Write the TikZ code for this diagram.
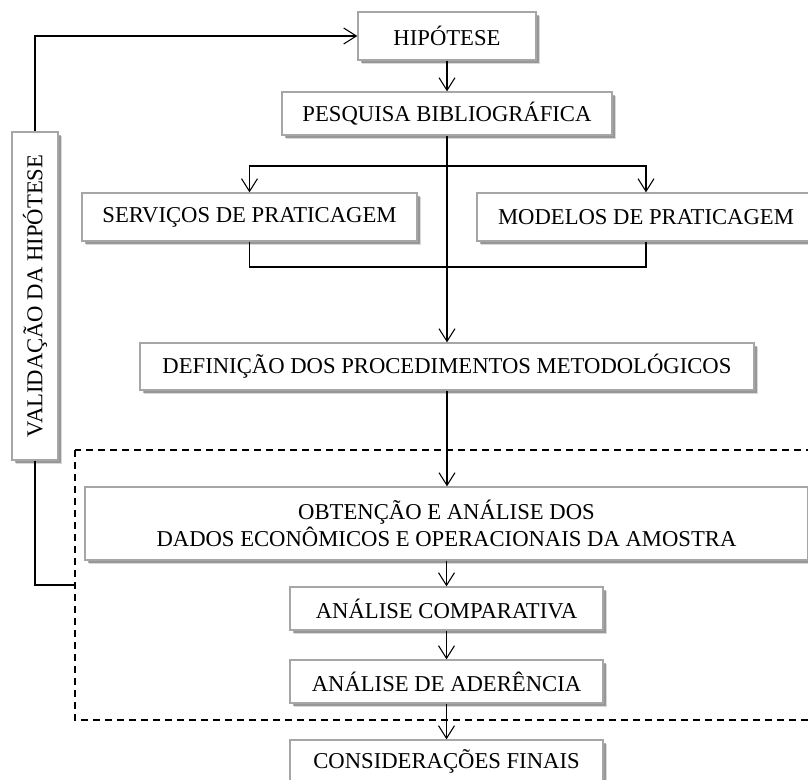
\documentclass[tikz,border=0pt]{standalone}
\usepackage{fontspec}
\setmainfont{Liberation Serif}
\usetikzlibrary{arrows.meta,shadows}
\begin{document}
\begin{tikzpicture}[x=0.75pt,y=-0.75pt,
  box/.style={draw=gray!70,line width=1pt,fill=white,inner sep=0pt,align=center,
    font=\fontsize{17}{20.5}\selectfont,
    drop shadow={shadow xshift=3.2pt,shadow yshift=-3.2pt,fill=black,opacity=0.15},
    drop shadow={shadow xshift=2pt,shadow yshift=-2pt,fill=black,opacity=0.3}},
  conn/.style={line width=0.9pt,draw=black},
  arr/.style={conn,-{Straight Barb[length=9.5pt,width=12pt,line width=0.8pt]}},
  dashbox/.style={dashed,dash pattern=on 5.5pt off 3.5pt,line width=0.8pt}]
\useasboundingbox (0,0) rectangle (808,780);

% dashed frame
\draw[dashbox] (75,450) rectangle (840,720);

% nodes
\node[box,minimum width=133.5pt,minimum height=36pt] (hip) at (447,36) {HIPÓTESE};
\node[box,minimum width=247.5pt,minimum height=32.25pt] (pes) at (447,113.5) {PESQUISA BIBLIOGRÁFICA};
\node[box,minimum width=251.25pt,minimum height=36pt] (ser) at (249.5,217) {SERVIÇOS DE PRATICAGEM};
\node[box,minimum width=253.5pt,minimum height=36pt] (mod) at (646,217) {MODELOS DE PRATICAGEM};
\node[box,minimum width=460.5pt,minimum height=35.25pt] (def) at (447,366.5) {DEFINIÇÃO DOS PROCEDIMENTOS METODOLÓGICOS};
\node[box,minimum width=542.25pt,minimum height=54.75pt] (obt) at (446.5,523.5) {OBTENÇÃO E ANÁLISE DOS\\DADOS ECONÔMICOS E OPERACIONAIS DA AMOSTRA};
\node[box,minimum width=234.75pt,minimum height=32.25pt] (cmp) at (446.5,608.5) {ANÁLISE COMPARATIVA};
\node[box,minimum width=234.75pt,minimum height=32.25pt] (ade) at (446.5,681.5) {ANÁLISE DE ADERÊNCIA};
\node[box,minimum width=234.75pt,minimum height=32.25pt] (con) at (446.5,761.5) {CONSIDERAÇÕES FINAIS};
\node[box,rotate=90,minimum width=246pt,minimum height=34.5pt] (val) at (35,296) {VALIDAÇÃO DA HIPÓTESE};

% helper coordinates
\coordinate (br) at (447,166);
\coordinate (jn) at (447,267);
\coordinate (dl) at (75,585);

% connectors
\draw[arr] (hip.south) -- (hip.south |- pes.north);
\draw[arr] (pes.south) -- (pes.south |- def.north);
\draw[arr] (br) -| (ser.north);
\draw[arr] (br) -| (mod.north);
\draw[conn] (ser.south) |- (jn) -| (mod.south);
\draw[arr] (def.south) -- (def.south |- obt.north);
\draw[arr] (obt.south) -- (obt.south |- cmp.north);
\draw[arr] (cmp.south) -- (cmp.south |- ade.north);
\draw[arr] (ade.south) -- (ade.south |- con.north);
\draw[arr] (val.east) |- (hip.west);
\draw[conn] (val.west) |- (dl);
\end{tikzpicture}
\end{document}
